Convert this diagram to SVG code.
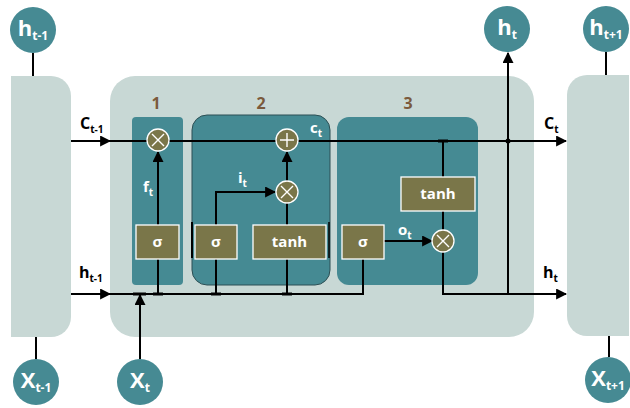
<svg xmlns="http://www.w3.org/2000/svg" width="630" height="408" viewBox="0 0 630 408">
<defs>
<style>
.cell{fill:#c8d8d5}
.node{fill:#468a93}
.ntxt{fill:#fff;font-family:"Open Sans","Liberation Sans",sans-serif;font-weight:bold;font-size:22px}
.gate{fill:#458a93}
.op{fill:#7a7649;stroke:#fff;stroke-width:1.3}
.optxt{fill:#fff;font-family:"Open Sans","Liberation Sans",sans-serif;font-weight:bold;font-size:15px}
.sym{stroke:#fff;stroke-width:1.4;fill:none}
.ln{stroke:#000;stroke-width:2;fill:none}
.lbl{fill:#000;font-family:"Open Sans","Liberation Sans",sans-serif;font-weight:bold;font-size:16px}
.wl{fill:#fff;font-family:"Open Sans","Liberation Sans",sans-serif;font-weight:bold;font-size:15px}
.num{fill:#7b5a3c;font-family:"Open Sans","Liberation Sans",sans-serif;font-weight:bold;font-size:16px}
.tick{stroke:#000;stroke-width:3}
</style>
<marker id="arr" viewBox="0 0 10 10" refX="9" refY="5" markerWidth="5.5" markerHeight="5.5" orient="auto">
<path d="M0,0 L10,5 L0,10 z" fill="#000"/>
</marker>
</defs>

<g id="cell-prev"><path class="cell" d="M11,76 H51 A20,20 0 0 1 71,96 V317 A20,20 0 0 1 51,337 H11 Z"/></g>
<g id="cell-main"><rect class="cell" x="110" y="76" width="424" height="261" rx="25"/></g>
<g id="cell-next"><path class="cell" d="M629,75 H587 A20,20 0 0 0 567,95 V316 A20,20 0 0 0 587,336 H629 Z"/></g>

<g id="gate1"><rect class="gate" x="132" y="117" width="51" height="168" rx="4"/><text class="num" x="156" y="109" text-anchor="middle">1</text></g>
<g id="gate2"><rect class="gate" x="192" y="115" width="138" height="170" rx="15" stroke="#2c4f54" stroke-width="1"/><text class="num" x="261" y="109" text-anchor="middle">2</text></g>
<g id="gate3"><rect class="gate" x="337" y="117" width="141" height="168" rx="12"/><text class="num" x="408" y="109" text-anchor="middle">3</text></g>

<g id="connectors">
<line class="ln" x1="33" y1="53" x2="33" y2="76"/>
<line class="ln" x1="36" y1="337" x2="36" y2="359"/>
<line class="ln" x1="606" y1="52" x2="606" y2="75"/>
<line class="ln" x1="609" y1="336" x2="609" y2="357"/>
<line class="ln" x1="71" y1="141" x2="110" y2="141" marker-end="url(#arr)"/>
<line class="ln" x1="110" y1="141" x2="566" y2="141" marker-end="url(#arr)"/>
<line class="ln" x1="71" y1="294" x2="110" y2="294" marker-end="url(#arr)"/>
<polyline class="ln" points="110,294 363,294 363,259"/>
<line class="ln" x1="140" y1="359" x2="140" y2="295" marker-end="url(#arr)"/>
<line class="ln" x1="158" y1="294" x2="158" y2="259"/>
<line class="ln" x1="158" y1="225" x2="158" y2="152" marker-end="url(#arr)"/>
<line class="ln" x1="216" y1="294" x2="216" y2="259"/>
<polyline class="ln" points="216,225 216,192 275,192" marker-end="url(#arr)"/>
<line class="ln" x1="287" y1="294" x2="287" y2="259"/>
<line class="ln" x1="287" y1="225" x2="287" y2="203"/>
<line class="ln" x1="287" y1="181" x2="287" y2="152" marker-end="url(#arr)"/>
<line class="ln" x1="443" y1="141" x2="443" y2="177"/>
<line class="ln" x1="443" y1="211" x2="443" y2="230"/>
<line class="ln" x1="384" y1="241" x2="432" y2="241" marker-end="url(#arr)"/>
<polyline class="ln" points="443,252 443,294 566,294" marker-end="url(#arr)"/>
<line class="ln" x1="508" y1="294" x2="508" y2="53" marker-end="url(#arr)"/>
<circle cx="508" cy="141" r="2.5" fill="#000"/>
<line class="tick" x1="133" y1="294" x2="146" y2="294"/>
<line class="tick" x1="153" y1="294" x2="163" y2="294"/>
<line class="tick" x1="211" y1="294" x2="221" y2="294"/>
<line class="tick" x1="282" y1="294" x2="292" y2="294"/>
<line class="tick" x1="438" y1="141" x2="448" y2="141"/>
<line x1="192" y1="222" x2="192" y2="258" stroke="#000" stroke-width="2"/>
<line x1="329" y1="222" x2="329" y2="258" stroke="#000" stroke-width="1.5"/>
</g>

<g id="node-ht-1"><circle class="node" cx="33" cy="30" r="23"/><text class="ntxt" x="33" y="36" text-anchor="middle">h<tspan font-size="12" dy="4">t-1</tspan></text></g>
<g id="node-ht"><circle class="node" cx="507" cy="29" r="23"/><text class="ntxt" x="507" y="35" text-anchor="middle">h<tspan font-size="12" dy="4">t</tspan></text></g>
<g id="node-ht1"><circle class="node" cx="606" cy="29" r="23"/><text class="ntxt" x="606" y="35" text-anchor="middle">h<tspan font-size="12" dy="4">t+1</tspan></text></g>
<g id="node-xt-1"><circle class="node" cx="36" cy="382" r="23"/><text class="ntxt" x="36" y="388" text-anchor="middle">X<tspan font-size="12" dy="4">t-1</tspan></text></g>
<g id="node-xt"><circle class="node" cx="140" cy="382" r="23"/><text class="ntxt" x="140" y="388" text-anchor="middle">X<tspan font-size="12" dy="4">t</tspan></text></g>
<g id="node-xt1"><circle class="node" cx="608" cy="380" r="23"/><text class="ntxt" x="608" y="386" text-anchor="middle">X<tspan font-size="12" dy="4">t+1</tspan></text></g>

<g id="op-mul1"><circle class="op" cx="158" cy="140" r="11"/><path class="sym" d="M152,134 L164,146 M164,134 L152,146"/></g>
<g id="op-add"><circle class="op" cx="287" cy="140" r="11"/><path class="sym" d="M280,140 H294 M287,133 V147"/></g>
<g id="op-mul2"><circle class="op" cx="287" cy="192" r="11"/><path class="sym" d="M281,186 L293,198 M293,186 L281,198"/></g>
<g id="op-mul3"><circle class="op" cx="443" cy="241" r="11"/><path class="sym" d="M437,235 L449,247 M449,235 L437,247"/></g>

<g id="sig1"><rect class="op" x="136" y="225" width="43" height="34"/><text class="optxt" x="157.5" y="247" text-anchor="middle">σ</text></g>
<g id="sig2"><rect class="op" x="195" y="225" width="42" height="34"/><text class="optxt" x="216" y="247" text-anchor="middle">σ</text></g>
<g id="tanh1"><rect class="op" x="253" y="225" width="73" height="34"/><text class="optxt" x="289.5" y="247" text-anchor="middle">tanh</text></g>
<g id="sig3"><rect class="op" x="342" y="225" width="42" height="34"/><text class="optxt" x="363" y="247" text-anchor="middle">σ</text></g>
<g id="tanh2"><rect class="op" x="401" y="177" width="74" height="34"/><text class="optxt" x="438" y="199" text-anchor="middle">tanh</text></g>

<g id="labels">
<text class="lbl" x="80" y="129">C<tspan font-size="10" dy="4">t-1</tspan></text>
<text class="lbl" x="79" y="278">h<tspan font-size="10" dy="4">t-1</tspan></text>
<text class="lbl" x="544" y="129">C<tspan font-size="10" dy="4">t</tspan></text>
<text class="lbl" x="543" y="278">h<tspan font-size="10" dy="4">t</tspan></text>
<text class="wl" x="143" y="192">f<tspan font-size="10" dy="4">t</tspan></text>
<text class="wl" x="238" y="183">i<tspan font-size="10" dy="4">t</tspan></text>
<text class="wl" x="310" y="133">c<tspan font-size="10" dy="4">t</tspan></text>
<text class="wl" x="398" y="235">o<tspan font-size="10" dy="4">t</tspan></text>
</g>
</svg>
